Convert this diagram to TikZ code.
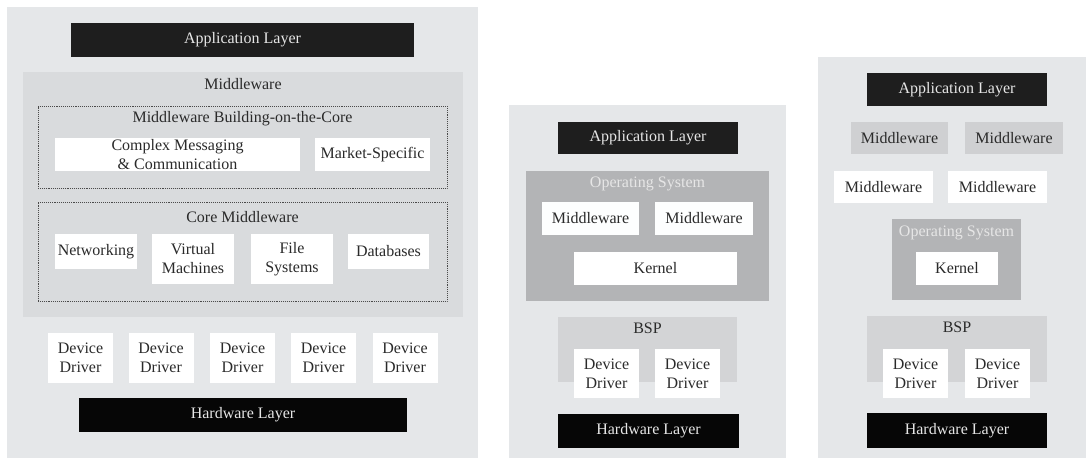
\documentclass[tikz,border=0pt]{standalone}
\usepackage{fontspec}
\setmainfont{Liberation Serif}
\definecolor{panelgray}{HTML}{E5E7E9}
\definecolor{mwgray}{HTML}{D9DBDD}
\definecolor{osgray}{HTML}{B3B4B6}
\definecolor{bspgray}{HTML}{D3D4D6}
\definecolor{softgray}{HTML}{CFD0D2}
\definecolor{applayer}{HTML}{1E1E1E}
\definecolor{hwlayer}{HTML}{060606}
\definecolor{ink}{HTML}{2A2A2A}
\definecolor{dotline}{HTML}{4A4A4A}
\definecolor{oslabel}{HTML}{E6E6E6}
\begin{document}
\begin{tikzpicture}[x=1pt,y=-1pt,
  every node/.style={inner sep=0pt, outer sep=0pt, align=center,
    font=\fontsize{16}{19}\selectfont, text=ink},
  panel/.style={fill=panelgray, draw=none},
  region/.style={fill=mwgray, draw=none},
  osregion/.style={fill=osgray, draw=none},
  bspregion/.style={fill=bspgray, draw=none},
  dotbox/.style={draw=dotline, densely dotted, line width=0.9pt, fill=mwgray},
  whitebox/.style={fill=white, draw=none},
  lightbox/.style={fill=white!94!panelgray, draw=none},
  graybox/.style={fill=softgray, draw=none},
  appbox/.style={fill=applayer, draw=none, text=oslabel},
  hwbox/.style={fill=hwlayer, draw=none, text=oslabel},
  oslab/.style={text=oslabel},
]
\useasboundingbox (0,0) rectangle (1086,460);
\fill[white] (0,0) rectangle (1086,460);

% ---------- Stack 1: layered middleware ----------
\node[panel, minimum width=471, minimum height=451] (p1) at (242.5,232.5) {};
\node[appbox, minimum width=343, minimum height=34] (app1) at (242.5,40) {Application Layer};
\node[region, minimum width=440, minimum height=245] (mw1) at (243,194.5) {};
\node (mw1lab) at (243,84) {Middleware};
\node[dotbox, minimum width=409, minimum height=82] (boc) at (242.5,147) {};
\node (boclab) at (242.5,119) {Middleware Building-on-the-Core};
\node[whitebox, minimum width=245, minimum height=33] (cmc) at (177.5,154.5) {Complex Messaging\\\& Communication};
\node[whitebox, minimum width=115, minimum height=33] (mks) at (372.5,154.5) {Market-Specific};
\node[dotbox, minimum width=409, minimum height=99] (core) at (242.5,251.5) {};
\node (corelab) at (242.5,217) {Core Middleware};
\node[whitebox, minimum width=82, minimum height=35] (net) at (96,251.5) {Networking};
\node[whitebox, minimum width=82, minimum height=50] (vm) at (193,259) {Virtual\\Machines};
\node[whitebox, minimum width=82, minimum height=50] (fs) at (292,259) {File\\Systems};
\node[whitebox, minimum width=81, minimum height=35] (db) at (388.5,251.5) {Databases};
\foreach \cx [count=\i] in {80.5,161,242.5,323.5,405}
  \node[whitebox, minimum width=65, minimum height=50] (dd1\i) at (\cx,358) {Device\\Driver};
\node[hwbox, minimum width=328, minimum height=34] (hw1) at (243,415) {Hardware Layer};

% ---------- Stack 2: middleware inside the OS ----------
\node[panel, minimum width=277, minimum height=353] (p2) at (647.5,281.5) {};
\node[appbox, minimum width=180, minimum height=32] (app2) at (648,138) {Application Layer};
\node[osregion, minimum width=243, minimum height=130] (os2) at (647.5,236) {};
\node[oslab] (os2lab) at (647.5,184) {Operating System};
\node[lightbox, minimum width=97, minimum height=33] (mw2a) at (590.5,218.5) {Middleware};
\node[lightbox, minimum width=98, minimum height=33] (mw2b) at (704,218.5) {Middleware};
\node[whitebox, minimum width=163, minimum height=33] (k2) at (655.5,268.5) {Kernel};
\node[bspregion, minimum width=179, minimum height=65] (bsp2) at (647.5,349.5) {};
\node (bsp2lab) at (647.5,328) {BSP};
\node[whitebox, minimum width=65, minimum height=49] (dd2a) at (606.5,373.5) {Device\\Driver};
\node[whitebox, minimum width=65, minimum height=49] (dd2b) at (687.5,373.5) {Device\\Driver};
\node[hwbox, minimum width=181, minimum height=34] (hw2) at (648.5,431) {Hardware Layer};

% ---------- Stack 3: middleware above the OS ----------
\node[panel, minimum width=268, minimum height=401] (p3) at (952,257.5) {};
\node[appbox, minimum width=180, minimum height=33] (app3) at (957,89.5) {Application Layer};
\node[graybox, minimum width=97, minimum height=32] (mw3a) at (899.5,138) {Middleware};
\node[graybox, minimum width=98, minimum height=32] (mw3b) at (1014,138) {Middleware};
\node[whitebox, minimum width=99, minimum height=32] (mw3c) at (883.5,187) {Middleware};
\node[whitebox, minimum width=99, minimum height=32] (mw3d) at (997.5,187) {Middleware};
\node[osregion, minimum width=129, minimum height=81] (os3) at (956.5,259.5) {};
\node[oslab] (os3lab) at (956.5,233) {Operating System};
\node[whitebox, minimum width=82, minimum height=33] (k3) at (957,268.5) {Kernel};
\node[bspregion, minimum width=180, minimum height=66] (bsp3) at (957,349) {};
\node (bsp3lab) at (957,327) {BSP};
\node[whitebox, minimum width=65, minimum height=49] (dd3a) at (915.5,373.5) {Device\\Driver};
\node[whitebox, minimum width=65, minimum height=49] (dd3b) at (997.5,373.5) {Device\\Driver};
\node[hwbox, minimum width=180, minimum height=35] (hw3) at (957,430.5) {Hardware Layer};
\end{tikzpicture}
\end{document}
